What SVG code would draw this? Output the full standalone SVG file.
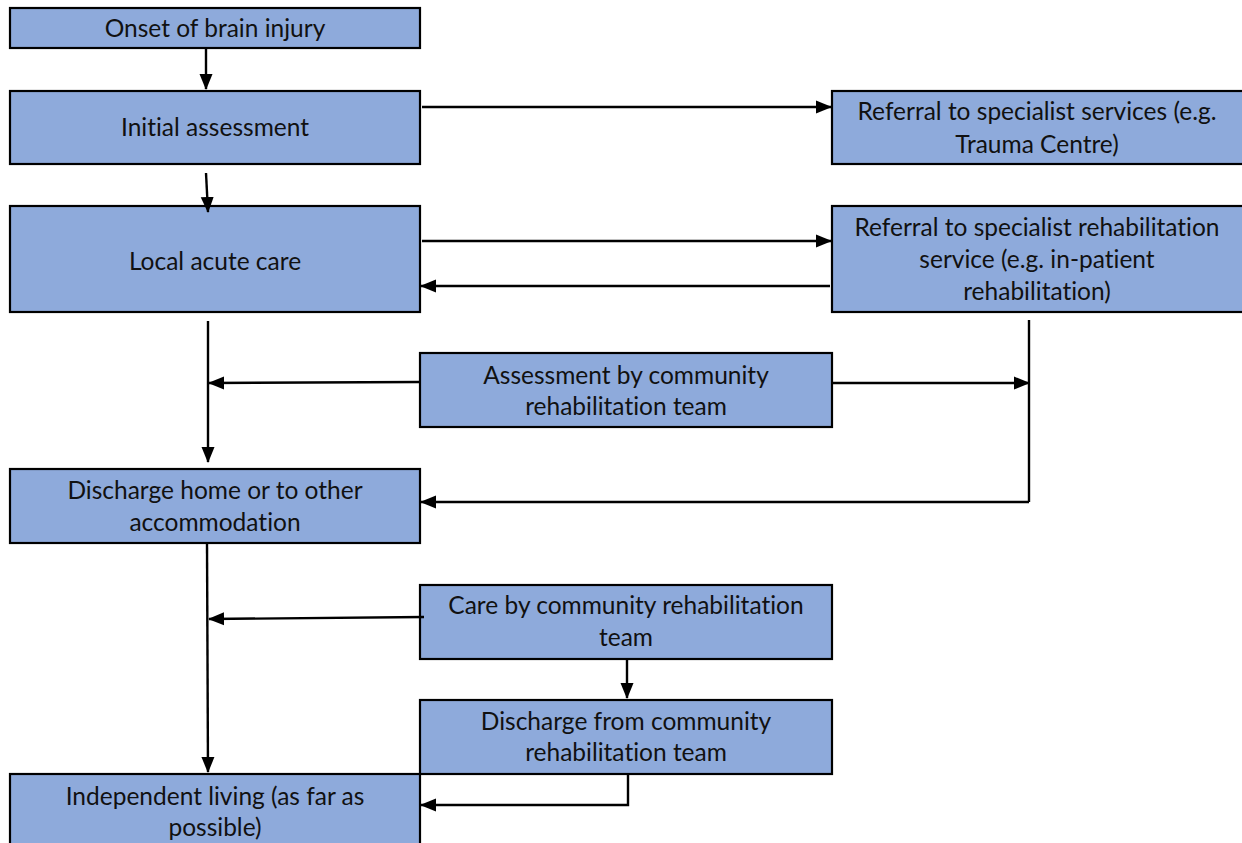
<svg xmlns="http://www.w3.org/2000/svg" width="1242" height="843" viewBox="0 0 1242 843">
<style>
.box{fill:#8eaadb;stroke:#000;stroke-width:2.2}
.t{font-family:Lato,"Open Sans","Liberation Sans",sans-serif;font-size:24.5px;fill:#111;text-anchor:middle;font-variant-ligatures:none}
.c{fill:none;stroke:#000;stroke-width:2.4}
.a{marker-end:url(#ah)}
</style>
<defs>
<marker id="ah" markerUnits="userSpaceOnUse" markerWidth="16" markerHeight="16" viewBox="0 0 16 16" refX="15" refY="8" orient="auto">
<path d="M0,1.5 L16,8 L0,14.5 Z" fill="#000"/>
</marker>
</defs>
<rect width="1242" height="843" fill="#fff"/>
<g id="n1"><rect class="box" x="10" y="8" width="410" height="40"/><text class="t" x="215" y="37">Onset of brain injury</text></g>
<g id="n2"><rect class="box" x="10" y="91" width="410" height="73"/><text class="t" x="215" y="136">Initial assessment</text></g>
<g id="n3"><rect class="box" x="10" y="206" width="410" height="106"/><text class="t" x="215" y="270">Local acute care</text></g>
<g id="n4"><rect class="box" x="832" y="91" width="430" height="73"/><text class="t" x="1037" y="120">Referral to specialist services (e.g.</text><text class="t" x="1037" y="153">Trauma Centre)</text></g>
<g id="n5"><rect class="box" x="832" y="206" width="430" height="106"/><text class="t" x="1037" y="236">Referral to specialist rehabilitation</text><text class="t" x="1037" y="268">service (e.g. in-patient</text><text class="t" x="1037" y="300">rehabilitation)</text></g>
<g id="n6"><rect class="box" x="420" y="353" width="412" height="74"/><text class="t" x="626" y="384">Assessment by community</text><text class="t" x="626" y="415">rehabilitation team</text></g>
<g id="n7"><rect class="box" x="10" y="469" width="410" height="74"/><text class="t" x="215" y="499">Discharge home or to other</text><text class="t" x="215" y="531">accommodation</text></g>
<g id="n8"><rect class="box" x="420" y="585" width="412" height="74"/><text class="t" x="626" y="614">Care by community rehabilitation</text><text class="t" x="626" y="646">team</text></g>
<g id="n9"><rect class="box" x="420" y="700" width="412" height="74"/><text class="t" x="626" y="730">Discharge from community</text><text class="t" x="626" y="761">rehabilitation team</text></g>
<g id="n10"><rect class="box" x="10" y="774" width="410" height="80"/><text class="t" x="215" y="805">Independent living (as far as</text><text class="t" x="215" y="836">possible)</text></g>
<g id="connectors">
<path class="c a" d="M206,49 L206,89"/>
<path class="c a" d="M206,173 L208,212"/>
<path class="c a" d="M422,107 L831,107"/>
<path class="c a" d="M422,241 L831,241"/>
<path class="c a" d="M830,286 L421,286"/>
<path class="c a" d="M208,321 L208,462"/>
<path class="c a" d="M420,382 L209,383"/>
<path class="c a" d="M832,383 L1029,383"/>
<path class="c" d="M1029,320 L1029,502"/>
<path class="c a" d="M1029,502 L421,502"/>
<path class="c a" d="M207,543 L208,772"/>
<path class="c a" d="M424,617 L209,619"/>
<path class="c a" d="M627,659 L627,698"/>
<path class="c a" d="M628,774 L628,805 L421,805"/>
</g>
</svg>
